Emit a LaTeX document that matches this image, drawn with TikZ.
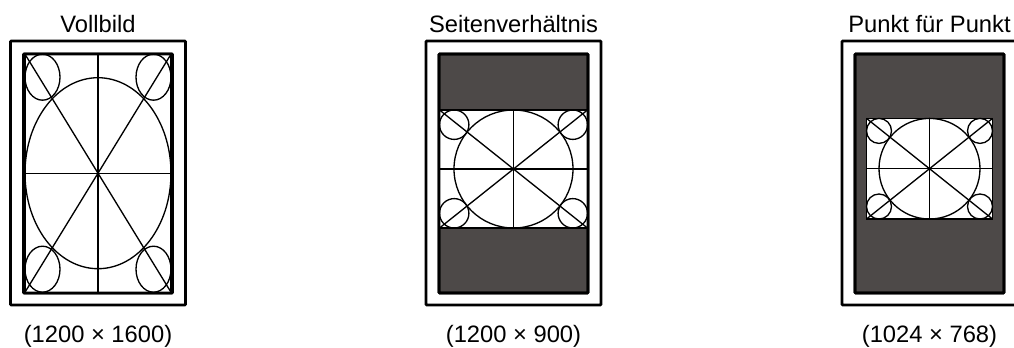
\documentclass[tikz,border=0pt]{standalone}
\usepackage{fontspec}
\setmainfont{Liberation Sans}
\definecolor{panelDark}{HTML}{4D4948}

\begin{document}
\begin{tikzpicture}[
    x=0.75pt, y=-0.75pt,
    frame/.style={draw, line width=1.95pt, rounded corners=0.6pt, inner sep=0pt, outer sep=0pt},
    card/.style={draw, fill=white, line width=1pt, inner sep=0pt, outer sep=0pt},
    testline/.style={line width=1pt},
    caption/.style={anchor=base, inner sep=0pt, font=\fontsize{17.8pt}{20pt}\selectfont}
  ]
    \useasboundingbox (0,0) rectangle (1014,347);
    \clip (0,0) rectangle (1014,347);

    % mode / cx / cy / half width / half height / circle rx / ry / corner rx / ry / title / size
    \foreach \n/\cx/\cy/\hw/\hh/\rx/\ry/\ax/\ay/\title/\res in {
        full/98/173.2/73/119/73/95.5/17.5/23/Vollbild/1200 × 1600,
        aspect/513.5/169/74/59/59.5/59/14.7/14.7/Seitenverhältnis/1200 × 900,
        dot/929.5/168.7/63/50.3/50.5/50.3/12.5/12.5/Punkt für Punkt/1024 × 768} {
      \node[frame, minimum width=175*0.75pt, minimum height=264*0.75pt] (outer-\n) at (\cx,173) {};
      \node[frame, fill=panelDark, minimum width=149*0.75pt, minimum height=239*0.75pt] (inner-\n) at (\cx,173.5) {};
      \node[card, minimum width=2*\hw*0.75pt, minimum height=2*\hh*0.75pt] (card-\n) at (\cx,\cy) {};
      \node[frame, minimum width=149*0.75pt, minimum height=239*0.75pt] (edge-\n) at (\cx,173.5) {};

      \draw[testline] (card-\n.center) ellipse [x radius=\rx, y radius=\ry];
      \draw[testline] (card-\n.north west) ++(\ax,\ay) ellipse [x radius=\ax, y radius=\ay];
      \draw[testline] (card-\n.north east) ++(-\ax,\ay) ellipse [x radius=\ax, y radius=\ay];
      \draw[testline] (card-\n.south west) ++(\ax,-\ay) ellipse [x radius=\ax, y radius=\ay];
      \draw[testline] (card-\n.south east) ++(-\ax,-\ay) ellipse [x radius=\ax, y radius=\ay];
      \draw[testline] (card-\n.north) -- (card-\n.south);
      \draw[testline] (card-\n.west) -- (card-\n.east);
      \draw[testline] (card-\n.north west) -- (card-\n.south east);
      \draw[testline] (card-\n.north east) -- (card-\n.south west);

      \node[caption] (title-\n) at (\cx,32) {\title};
      \node[caption] (size-\n) at (\cx,342) {(\res)};
    }
  \end{tikzpicture}
\end{document}
